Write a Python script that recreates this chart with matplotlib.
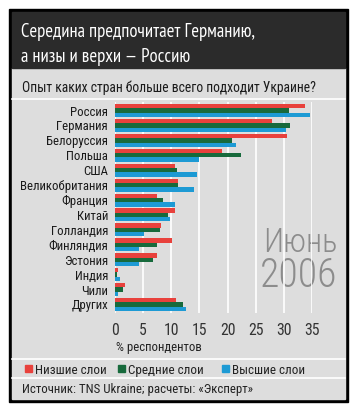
import matplotlib
matplotlib.use("Agg")
import matplotlib.pyplot as plt
import numpy as np
from matplotlib.patches import Rectangle
from matplotlib.lines import Line2D

plt.rcParams['font.family'] = ['Roboto Condensed', 'DejaVu Sans']
title_font = ['PT Sans Narrow', 'DejaVu Sans']

# data
countries = ["Россия", "Германия", "Белоруссия", "Польша", "США", "Великобритания",
             "Франция", "Китай", "Голландия", "Финляндия", "Эстония", "Индия",
             "Чили", "Других"]
low = [33.8, 27.9, 30.5, 19.0, 10.7, 11.2, 7.4, 10.7, 8.2, 10.2, 7.4, 0.5, 1.7, 10.9]
mid = [30.9, 31.1, 20.7, 22.4, 11.0, 11.2, 8.6, 9.4, 8.0, 7.4, 6.7, 0.3, 1.4, 12.1]
high = [34.7, 30.4, 21.5, 14.9, 14.6, 14.0, 10.7, 9.8, 5.2, 4.3, 4.3, 0.8, 0.6, 12.7]
series_names = ["Низшие слои", "Средние слои", "Высшие слои"]
xticks = [0, 5, 10, 15, 20, 25, 30, 35]

red, green, blue = "#e8413c", "#176a3c", "#1d9ad4"
panel = "#dddddd"
W, H = 358, 412

fig = plt.figure(figsize=(W / 100, H / 100), dpi=100)
fig.patch.set_facecolor("white")

def px(x, y):
    return x / W, 1 - y / H

# frame and panels
bg = fig.add_axes([0, 0, 1, 1])
bg.set_xlim(0, W)
bg.set_ylim(H, 0)
bg.axis("off")
bg.add_patch(Rectangle((9, 9), 339, 393, color="black"))
bg.add_patch(Rectangle((12, 68), 333, 331, color=panel))
bg.add_patch(Rectangle((12, 12), 333, 56, color="#2b2b2b"))
for yy in [99, 358.5, 378]:
    bg.add_line(Line2D([12, 345], [yy, yy], color="white", lw=1.2))

bg.text(21, 37, "Середина предпочитает Германию,", color="white", fontsize=13.4,
        va="baseline", family=title_font)
bg.text(21, 62, "а низы и верхи — Россию", color="white", fontsize=13.4,
        va="baseline", family=title_font)
bg.text(22, 92, "Опыт каких стран больше всего подходит Украине?", color="#1a1a1a",
        fontsize=9.8, va="baseline")
bg.text(337, 252, "Июнь", color="#8c8c8c", fontsize=23.5, ha="right", va="baseline",
        fontweight="light")
bg.text(337, 287, "2006", color="#8c8c8c", fontsize=28.5, ha="right", va="baseline",
        fontweight="light")
bg.text(116, 351, "% респондентов", color="#222222", fontsize=9.2, va="baseline")

# legend
for (x0, c, name) in zip([25, 118, 222], [red, green, blue], series_names):
    bg.add_patch(Rectangle((x0, 365), 7, 7, color=c))
    bg.text(x0 + 10, 374, name, color="#222222", fontsize=9.4, va="baseline")
bg.text(22, 393, "Источник: TNS Ukraine; расчеты: «Эксперт»", color="#222222",
        fontsize=9.25, va="baseline")

# chart
l, t = px(115, 102)
r, b = px(312, 313)
ax = fig.add_axes([l, b, r - l, t - b])
ax.set_facecolor("none")
y = np.arange(len(countries))
hgt = 0.29
ax.barh(y - hgt, low, height=hgt, color=red, zorder=3)
ax.barh(y, mid, height=hgt, color=green, zorder=3)
ax.barh(y + hgt, high, height=hgt, color=blue, zorder=3)
ax.set_xlim(0, 35)
ax.set_ylim(len(countries) - 0.43, -0.57)
ax.set_xticks(xticks)
ax.set_xticklabels([str(v) for v in xticks], fontsize=11.3, color="#333333")
ax.set_yticks(y)
ax.set_yticklabels(countries, fontsize=9.2, color="#1a1a1a")
ax.tick_params(length=0)
ax.tick_params(axis="y", pad=5)
ax.tick_params(axis="x", pad=7)
ax.grid(axis="x", color="white", lw=1.2, zorder=1)
for s in ax.spines.values():
    s.set_visible(False)

fig.savefig("out.png", dpi=100, facecolor="white")
